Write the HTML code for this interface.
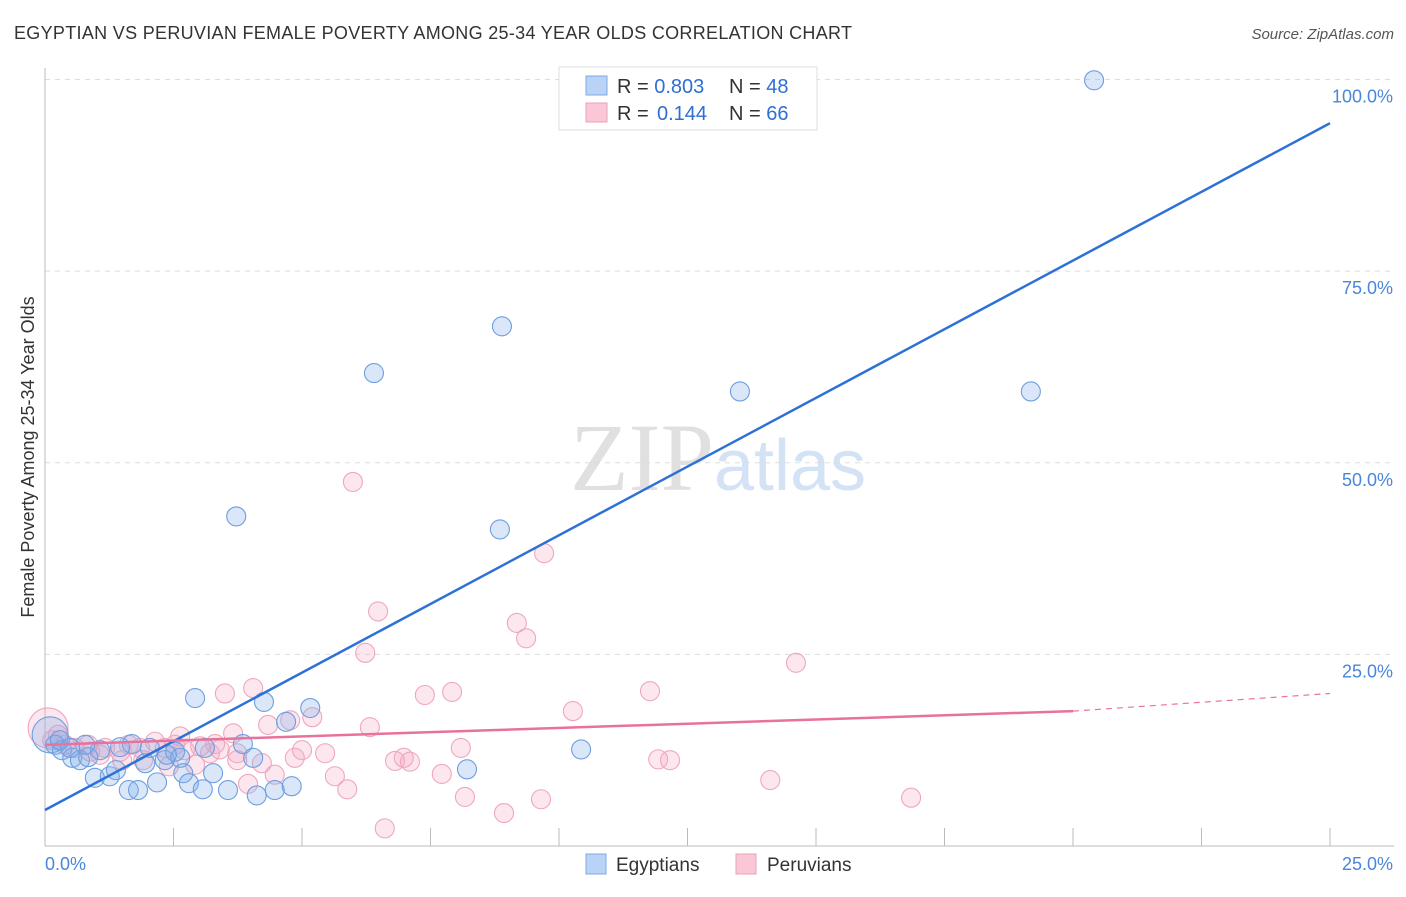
<!DOCTYPE html>
<html><head><meta charset="utf-8"><style>
body{margin:0;background:#fff;font-family:"Liberation Sans",sans-serif}
</style></head><body>
<svg id="chart" width="1406" height="892" xmlns="http://www.w3.org/2000/svg" font-family="Liberation Sans, sans-serif">
<text x="14" y="39" font-size="18" fill="#333" textLength="838">EGYPTIAN VS PERUVIAN FEMALE POVERTY AMONG 25-34 YEAR OLDS CORRELATION CHART</text>
<text x="1394" y="39" font-size="15" fill="#555" text-anchor="end" font-style="italic">Source: ZipAtlas.com</text>
<text x="718" y="490" font-size="96" text-anchor="middle"><tspan font-family="Liberation Serif, serif" fill="#e0e0e0">ZIP</tspan><tspan fill="#d3e2f5" font-size="72">atlas</tspan></text>
<g id="grid"></g><g id="axes"></g><g id="pts"></g><g id="lines"></g>
<text transform="translate(34,457) rotate(-90)" font-size="18" fill="#333" text-anchor="middle">Female Poverty Among 25-34 Year Olds</text>
<g>
<rect x="559" y="67" width="258" height="63" fill="#fff" stroke="#ddd"/>
<rect x="586" y="76" width="21" height="19" fill="#b8d3f5" stroke="#7fa9e3"/>
<rect x="586" y="103" width="21" height="19" fill="#fac7d6" stroke="#eba2b8"/>
<text x="617" y="93" font-size="20" fill="#333">R = <tspan fill="#2f6fd0">0.803</tspan><tspan x="729">N = </tspan><tspan fill="#2f6fd0">48</tspan></text>
<text x="617" y="120" font-size="20" fill="#333">R = <tspan x="657" fill="#2f6fd0">0.144</tspan><tspan x="729">N = </tspan><tspan fill="#2f6fd0">66</tspan></text>
</g>
<g>
<rect x="586" y="854" width="20" height="20" fill="#b8d3f5" stroke="#7fa9e3"/>
<text x="616" y="871" font-size="19" fill="#333">Egyptians</text>
<rect x="736" y="854" width="20" height="20" fill="#fac7d6" stroke="#eba2b8"/>
<text x="767" y="871" font-size="19" fill="#333">Peruvians</text>
</g>
</svg>
<script>
const blueX=[20.41,8.89,6.40,13.52,19.18,3.72,8.85,2.92,4.26,5.16,4.69,10.43,8.21,0.1,0.2,0.33,0.53,0.68,0.84,1.07,0.97,1.26,1.38,1.69,1.63,1.81,1.95,2.04,2.18,2.33,2.53,2.63,2.69,2.80,3.07,3.11,3.27,3.56,3.85,4.05,4.12,4.47,4.80,0.29,1.46,2.37,0.78,0.49];
const blueY=[99.9,67.8,61.7,59.3,59.3,43.0,41.3,19.3,18.8,18.0,16.2,12.6,10.0,14.5,13.2,12.5,11.5,11.2,11.6,12.5,8.9,9.1,9.9,13.3,7.3,7.3,10.8,12.8,8.3,11.2,12.3,11.5,9.5,8.2,7.4,12.8,9.5,7.3,13.3,11.5,6.6,7.3,7.8,13.8,12.9,11.9,13.2,12.8];
const pinkX=[5.99,9.71,6.48,9.18,9.36,6.23,14.61,4.05,3.50,7.92,7.39,11.77,10.27,5.20,4.77,4.34,6.32,3.66,2.63,8.09,5.00,5.45,4.86,3.31,3.02,3.21,3.74,4.22,6.81,6.98,7.10,11.93,12.16,7.72,5.64,4.47,3.95,5.88,8.17,9.65,8.93,6.61,14.11,16.85,0.06,0.14,0.39,0.58,0.88,1.17,1.46,1.85,2.14,2.33,2.72,1.50,2.41,3.74,2.92,1.07,1.63,1.91,0.25,0.84,2.53,3.40];
const pinkY=[47.5,38.2,30.6,29.1,27.1,25.2,23.9,20.6,19.9,20.1,19.7,20.2,17.6,16.8,16.4,15.8,15.5,14.7,14.3,12.8,12.5,12.1,11.5,13.3,13.0,12.1,11.2,10.8,11.1,11.5,11.0,11.3,11.2,9.4,9.1,9.3,8.1,7.4,6.4,6.1,4.3,2.3,8.6,6.3,15.4,13.8,13.2,12.8,12.3,12.8,12.3,12.8,13.6,12.8,12.5,11.2,10.4,12.1,10.6,11.9,13.2,11.2,14.5,13.2,13.2,12.6];
const bigBlue=[13];
const bigPink=[44];
const yTicks=[25,50,75,100];
const yTickLabels=["25.0%","50.0%","75.0%","100.0%"];
const xTicks=[0,2.5,5,7.5,10,12.5,15,17.5,20,22.5,25];
const blueLine=[4.7,94.3];
const pinkLine=[13.2,17.6,19.9];
const pinkSolidEnd=20;
const NS="http://www.w3.org/2000/svg";
const X=v=>45+v*51.4, Y=v=>846-v*7.665;
function mk(tag,attrs,parent){const e=document.createElementNS(NS,tag);for(const k in attrs)e.setAttribute(k,attrs[k]);document.getElementById(parent).appendChild(e);return e;}
yTicks.forEach((t,i)=>{
 const l=mk('line',{x1:45,x2:1394,y1:Y(t),y2:Y(t),stroke:'#ddd','stroke-dasharray':'5,5'},'grid');
 
 
 const tx=mk('text',{x:1393,y:Y(t)+23,'font-size':18,fill:'#4a86d8','text-anchor':'end'},'axes');
 tx.textContent=yTickLabels[i];
 
 
});
mk('line',{x1:45,x2:45,y1:68,y2:846,stroke:'#bbb'},'axes');
const xa=mk('line',{x1:45,x2:1394,y1:846,y2:846,stroke:'#bbb'},'axes');


xTicks.forEach(t=>{const l=mk('line',{x1:X(t),x2:X(t),y1:828,y2:846,stroke:'#bbb'},'axes');
 
 });
const xl0=mk('text',{x:45,y:870,'font-size':18,fill:'#4a86d8'},'axes');xl0.textContent="0.0%";


const xl1=mk('text',{x:1393,y:870,'font-size':18,fill:'#4a86d8','text-anchor':'end'},'axes');xl1.textContent="25.0%";


pinkX.forEach((x,i)=>{const c=mk('circle',{cx:X(x),cy:Y(pinkY[i]),r:bigPink.includes(i)?20:9.5,fill:'rgba(246,170,196,0.28)',stroke:'#efa7be','stroke-width':1.1},'pts');
 
 });
blueX.forEach((x,i)=>{const c=mk('circle',{cx:X(x),cy:Y(blueY[i]),r:bigBlue.includes(i)?18:9.5,fill:'rgba(130,175,232,0.3)',stroke:'#6f9ee0','stroke-width':1.1},'pts');
 
 });
const bl=mk('line',{x1:X(0),y1:Y(blueLine[0]),x2:X(25),y2:Y(blueLine[1]),stroke:'#2d70d6','stroke-width':2.5},'lines');


const pl=mk('line',{x1:X(0),y1:Y(pinkLine[0]),x2:X(pinkSolidEnd),y2:Y(pinkLine[1]),stroke:'#e8729c','stroke-width':2.5},'lines');


const pd=mk('line',{x1:X(pinkSolidEnd),y1:Y(pinkLine[1]),x2:X(25),y2:Y(pinkLine[2]),stroke:'#e8729c','stroke-width':1.2,'stroke-dasharray':'6,5'},'lines');


</script>
</body></html>
